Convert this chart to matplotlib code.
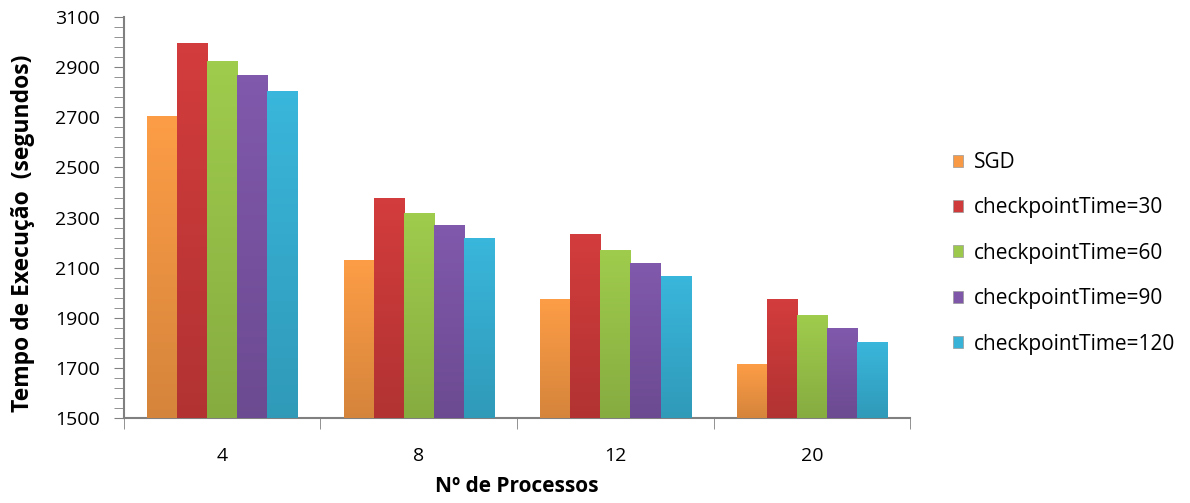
import numpy as np
import matplotlib
matplotlib.use('Agg')
import matplotlib.pyplot as plt
from matplotlib.colors import to_rgb
from matplotlib.patches import Patch

# Execution time per number of processes, SGD vs checkpoint intervals
processes = ['4', '8', '12', '20']
series = ['SGD', 'checkpointTime=30', 'checkpointTime=60',
          'checkpointTime=90', 'checkpointTime=120']
sgd = [2705, 2130, 1973, 1712]
ckpt30 = [2995, 2375, 2232, 1972]
ckpt60 = [2922, 2315, 2168, 1908]
ckpt90 = [2866, 2267, 2115, 1856]
ckpt120 = [2805, 2218, 2063, 1803]
values = [sgd, ckpt30, ckpt60, ckpt90, ckpt120]

colors = ['#F89A45', '#CF3B3B', '#9CC84B', '#7E57A9', '#38B3D7']

plt.rcParams['font.family'] = ['Open Sans', 'DejaVu Sans']

fig = plt.figure(figsize=(11.9, 5.03), dpi=100)
ax = fig.add_axes([0.104, 0.169, 0.661, 0.797])

ymin, ymax = 1500, 3100
width = 0.153
x = np.arange(len(processes))
offsets = (np.arange(len(series)) - 2) * width


def shade(color):
    # vertical gradient, lighter at the top of the bar
    c = np.array(to_rgb(color))
    t = np.linspace(0, 1, 64)[:, None]
    rgb = c * (1.0 + 0.02 * (1 - t)) * (1 - 0.14 * t)
    return np.clip(rgb, 0, 1)[:, None, :]


for vals, col, off in zip(values, colors, offsets):
    for xi, v in zip(x, vals):
        x0 = xi + off - width / 2
        ax.bar(xi + off, v - ymin, width, bottom=ymin, color=col,
               edgecolor='none', zorder=2)
        ax.imshow(shade(col), extent=(x0, x0 + width, ymin, v),
                  aspect='auto', zorder=3, interpolation='bilinear')

ax.set_xlim(-0.5, len(processes) - 0.5)
ax.set_ylim(ymin, ymax)

ax.set_yticks(np.arange(ymin, ymax + 1, 200))
ax.set_yticks(np.arange(ymin, ymax + 1, 40), minor=True)
ax.set_xticks(x)
ax.set_xticklabels(processes)
ax.set_xticks(np.arange(-0.5, len(processes)), minor=True)

ax.tick_params(axis='y', which='both', direction='out', length=7,
               color='#808080', labelsize=14, pad=10)
ax.tick_params(axis='x', which='major', length=0, labelsize=14, pad=21)
ax.tick_params(axis='x', which='minor', direction='out', length=8,
               color='#808080')

for s in ['top', 'right']:
    ax.spines[s].set_visible(False)
for s in ['left', 'bottom']:
    ax.spines[s].set_color('#808080')
    ax.spines[s].set_linewidth(1.5)

ax.set_ylabel('Tempo de Execução  (segundos)', fontsize=16.5,
              fontweight='bold')
ax.yaxis.set_label_coords(-0.113, 0.46)
ax.set_xlabel('Nº de Processos', fontsize=15, fontweight='bold',
              labelpad=8)

handles = [Patch(facecolor=c, edgecolor='#999999', linewidth=0.5)
           for c in colors]
fig.legend(handles, series, loc='upper left', bbox_to_anchor=(0.785, 0.735),
           frameon=False, fontsize=15, handlelength=0.5, handleheight=0.5,
           handletextpad=0.5, labelspacing=1.17)

fig.savefig('out.png', dpi=100)
